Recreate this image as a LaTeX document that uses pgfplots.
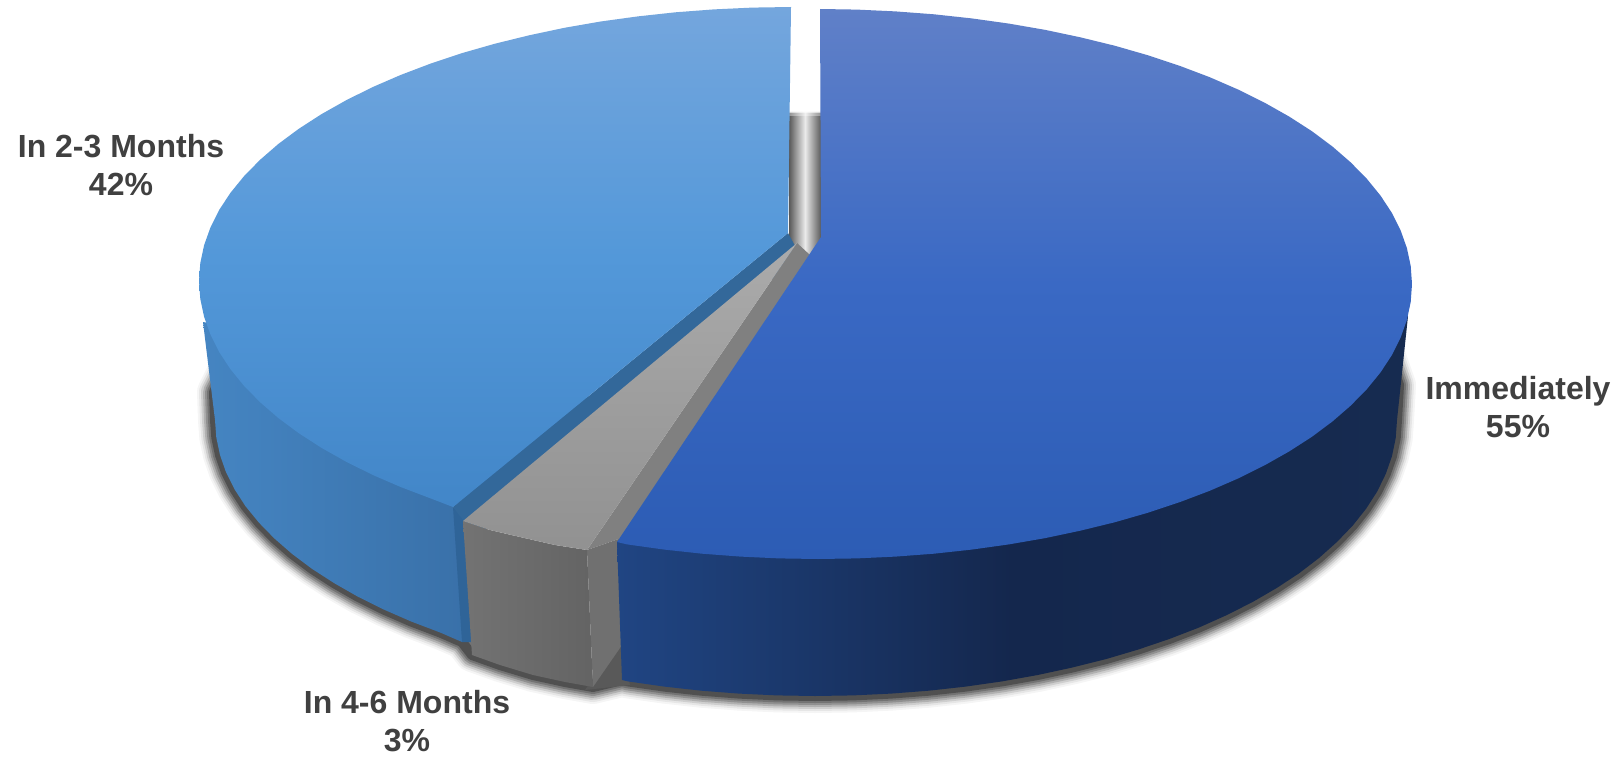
\documentclass[border=0pt]{standalone}
\usepackage{pgfplots}
\pgfplotsset{compat=1.18}
\usepackage{fontspec}
\setmainfont{Liberation Sans}
\definecolor{lab}{HTML}{404040}
\definecolor{lbsideL}{RGB}{69,133,194}
\definecolor{lbsideR}{RGB}{51,102,156}
\definecolor{lbsliver}{RGB}{47,100,152}
\definecolor{lbstrip}{RGB}{51,104,154}
\definecolor{lbT}{RGB}{116,166,221}
\definecolor{lbM}{RGB}{83,152,217}
\definecolor{lbB}{RGB}{66,134,200}
\definecolor{dbL}{RGB}{32,69,131}
\definecolor{dbM}{RGB}{20,39,77}
\definecolor{dbR}{RGB}{22,43,80}
\definecolor{bT}{RGB}{96,128,200}
\definecolor{bM}{RGB}{58,105,196}
\definecolor{bB}{RGB}{44,92,180}
\newcommand\poly[2]{\addplot[draw=none,#1] coordinates {#2} -- cycle;}
\newcommand\lbarc{(215,420)(216.3,437.5)(220,455)(226,472.2)(234.6,489.4)(245.5,506.2)(258.8,522.5)(274.4,538.5)(292.2,554)(312.1,568.9)(334.1,583.1)(357.9,596.7)(383.7,609.5)(411.2,621.5)(440.4,632.6)(462,642)}
\newcommand\dbarc{(1397,420)(1395.7,438.1)(1392,456)(1385.8,473.8)(1377.2,491.5)(1366.1,508.7)(1352.7,525.6)(1336.9,542)(1319,558)(1298.9,573.4)(1276.7,588)(1252.6,602)(1226.5,615.2)(1198.8,627.6)(1169.3,639)(1138.3,649.5)(1106,659.1)(1072.4,667.5)(1037.7,675)(1002,681.4)(965.6,686.6)(928.6,690.7)(890.9,693.6)(853,695.4)(815,696)(777,695.4)(739.1,693.6)(701.4,690.7)(664.4,686.6)(628,681.4)(622,680)}
\newcommand\dbarcrev{(622,680)(628,681.4)(664.4,686.6)(701.4,690.7)(739.1,693.6)(777,695.4)(815,696)(853,695.4)(890.9,693.6)(928.6,690.7)(965.6,686.6)(1002,681.4)(1037.7,675)(1072.4,667.5)(1106,659.1)(1138.3,649.5)(1169.3,639)(1198.8,627.6)(1226.5,615.2)(1252.6,602)(1276.7,588)(1298.9,573.4)(1319,558)(1336.9,542)(1352.7,525.6)(1366.1,508.7)(1377.2,491.5)(1385.8,473.8)(1392,456)(1395.7,438.1)(1397,420)}
\newcommand\shad[2]{\addplot[draw=black,line width=#1pt,opacity=#2,line join=round,line cap=round,fill=none] coordinates {(240,340)(214,392)\lbarc(472,655)(500,665)(533,675)(565,682)(593,687)\dbarcrev(1399,385)(1385,345)};}
\begin{document}
\begin{tikzpicture}
\begin{axis}[width=1621pt,height=757pt,scale only axis,xmin=0,xmax=1621,ymin=0,ymax=757,y dir=reverse,hide axis,no markers,clip=true]
\poly{fill=white}{(0,0)(1621,0)(1621,757)(0,757)}
% shadow
\shad{34}{0.04}
\shad{30}{0.06}
\shad{26}{0.10}
\shad{22}{0.14}
\shad{18}{0.18}
\shad{14}{0.20}
\shad{10}{0.30}
\poly{fill=black!65}{(585,690)(620,640)(630,685)}
% centre gap
\poly{left color=black!65,right color=black!65,middle color=black!8}{(789,112)(821,112)(821,240)(803,268)(789,248)}
\poly{fill=white,opacity=0.6}{(789,106)(821,106)(821,113)(789,113)}
\poly{fill=white,opacity=0.35}{(789,112)(821,112)(821,116)(789,116)}
% light blue side
\poly{left color=lbsideL,right color=lbsideR}{(203,322)\lbarc(470,640)(470,520)(453,507)(600,400)}
\poly{fill=lbsliver}{(453,507)(465,520)(474,642)(462,642)}
\poly{fill=lbstrip}{(453,507)(788,233)(800,255)(480,535)(463,520)}
% light blue top
\poly{top color=lbT,bottom color=lbB,middle color=lbM}{(791,7)(752.3,7.6)(713.8,9.4)(675.5,12.3)(637.8,16.4)(600.7,21.5)(564.5,27.8)(529.2,35.3)(495,43.7)(462.1,53.1)(430.6,63.6)(400.6,75)(372.4,87.2)(345.9,100.4)(321.4,114.2)(298.8,128.8)(278.3,144)(260.1,159.8)(244,176.2)(230.4,192.9)(219.1,210.1)(210.4,227.6)(204.1,245.2)(200.3,263.1)(199,281)(200.3,298.9)(204.1,316.8)(210.4,334.4)(219.1,351.9)(230.4,369.1)(244,385.8)(260.1,402.2)(278.3,418)(298.8,433.2)(321.4,447.8)(345.9,461.6)(372.4,474.8)(400.6,487)(430.6,498.4)(453,507)(788,233)}
% grey
\poly{fill=black!50}{(587,550)(797,243)(810,255)(630,535)}
\poly{fill=black!56}{(587,550)(630,535)(630,632)(620,648)(593,687)}
\poly{left color=black!55,right color=black!61}{(463,521)(490,530)(520,537)(555,545)(587,550)(593,687)(565,682)(533,675)(500,665)(472,655)}
\poly{top color=black!33,bottom color=black!43}{(463,521)(490,530)(520,537)(555,545)(587,550)(797,243)}
% dark blue side
\poly{left color=dbL,right color=dbR,middle color=dbM}{(1408,316)\dbarc(617,542)(818,400)}
% blue top
\poly{top color=bT,bottom color=bB,middle color=bM}{(820,9)(856.8,9.6)(895.5,11.4)(933.9,14.3)(971.7,18.4)(1008.9,23.6)(1045.3,29.9)(1080.7,37.4)(1115,45.8)(1148,55.3)(1179.6,65.8)(1209.7,77.2)(1238,89.5)(1264.6,102.7)(1289.2,116.6)(1311.9,131.2)(1332.4,146.5)(1350.7,162.4)(1366.8,178.8)(1380.5,195.6)(1391.8,212.8)(1400.6,230.4)(1406.9,248.1)(1410.7,266)(1412,284)(1410.7,302)(1406.9,319.9)(1400.6,337.6)(1391.8,355.2)(1380.5,372.4)(1366.8,389.2)(1350.7,405.6)(1332.4,421.5)(1311.9,436.8)(1289.2,451.4)(1264.6,465.3)(1238,478.5)(1209.7,490.8)(1179.6,502.2)(1148,512.7)(1115,522.2)(1080.7,530.6)(1045.3,538.1)(1008.9,544.4)(971.7,549.6)(933.9,553.7)(895.5,556.6)(856.8,558.4)(818,559)(779.2,558.4)(740.5,556.6)(702.1,553.7)(664.3,549.6)(627.1,544.4)(617,542)(821,237)}
% labels
\node[font=\fontsize{32}{38}\selectfont\bfseries,text=lab,align=center] at (axis cs:1518,407) {Immediately\\55\%};
\node[font=\fontsize{32}{38}\selectfont\bfseries,text=lab,align=center] at (axis cs:121,165) {In 2-3 Months\\42\%};
\node[font=\fontsize{32}{38}\selectfont\bfseries,text=lab,align=center] at (axis cs:407,721) {In 4-6 Months\\3\%};
\end{axis}
\end{tikzpicture}
\end{document}
